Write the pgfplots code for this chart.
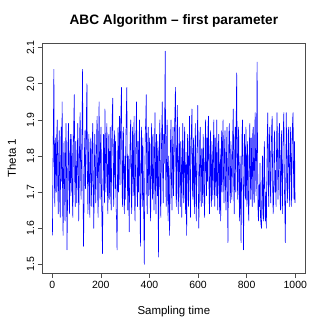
\documentclass[border=0pt]{standalone}
\usepackage{fontspec}
\setmainfont{Liberation Sans}
\usepackage{pgfplots}
\pgfplotsset{compat=1.18}
\usepackage{pgfplotstable}

% trace of the first parameter, one value per sampling step (every 2nd step)
\pgfplotstableread[header=false,row sep=\\]{
1.58\\1.76\\1.88\\2.04\\1.74\\1.66\\1.85\\1.79\\1.70\\1.86\\
1.90\\1.72\\1.64\\1.80\\1.87\\1.68\\1.63\\1.78\\1.88\\1.73\\
1.95\\1.66\\1.58\\1.79\\1.84\\1.70\\1.62\\1.81\\1.89\\1.75\\
1.54\\1.66\\1.83\\1.89\\1.72\\1.64\\1.80\\1.86\\1.69\\1.77\\
1.86\\1.68\\1.63\\1.82\\1.90\\1.97\\1.73\\1.66\\1.84\\1.78\\
1.67\\1.75\\1.89\\1.81\\1.62\\1.70\\1.86\\1.92\\1.76\\1.68\\
1.80\\1.88\\2.04\\1.70\\1.55\\1.66\\1.82\\1.87\\1.71\\1.78\\
1.92\\2.00\\1.75\\1.64\\1.79\\1.86\\1.69\\1.63\\1.80\\1.85\\
1.72\\1.66\\1.84\\1.89\\1.74\\1.60\\1.70\\1.86\\1.80\\1.67\\
1.74\\1.86\\1.91\\1.70\\1.63\\1.82\\1.95\\1.76\\1.68\\1.84\\
1.88\\1.69\\1.61\\1.53\\1.72\\1.86\\1.78\\1.67\\1.93\\1.81\\
1.70\\1.83\\1.89\\1.72\\1.64\\1.79\\1.86\\1.68\\1.74\\1.88\\
1.69\\1.65\\1.84\\1.91\\1.96\\1.73\\1.66\\1.82\\1.87\\1.71\\
1.84\\1.66\\1.62\\1.54\\1.76\\1.88\\1.70\\1.81\\1.91\\1.72\\
1.86\\1.93\\1.99\\1.74\\1.66\\1.83\\1.88\\1.70\\1.64\\1.80\\
1.68\\1.84\\1.92\\1.99\\1.76\\1.65\\1.80\\1.70\\1.59\\1.78\\
1.86\\1.90\\1.71\\1.64\\1.82\\1.88\\1.69\\1.76\\1.91\\1.67\\
1.62\\1.78\\1.87\\1.95\\1.72\\1.66\\1.84\\1.70\\1.80\\1.90\\
1.68\\1.55\\1.74\\1.88\\1.80\\1.66\\1.85\\1.72\\1.62\\1.50\\
1.74\\1.86\\1.90\\1.97\\1.70\\1.64\\1.83\\1.88\\1.69\\1.80\\
1.85\\1.67\\1.62\\1.80\\1.89\\1.73\\1.68\\1.86\\1.74\\1.65\\
1.82\\1.92\\1.71\\1.64\\1.86\\1.78\\1.69\\1.84\\1.52\\1.70\\
1.84\\1.90\\1.68\\1.63\\1.80\\1.88\\1.95\\1.74\\1.67\\1.86\\
1.78\\1.91\\2.09\\1.75\\1.66\\1.84\\1.90\\1.70\\1.62\\1.80\\
1.72\\1.58\\1.70\\1.85\\1.90\\1.72\\1.65\\1.82\\1.88\\1.69\\
1.76\\1.87\\1.92\\1.99\\1.70\\1.66\\1.86\\1.94\\1.73\\1.64\\
1.80\\1.88\\1.71\\1.66\\1.84\\1.79\\1.63\\1.76\\1.89\\1.74\\
1.67\\1.83\\1.88\\1.70\\1.64\\1.81\\1.58\\1.72\\1.86\\1.78\\
1.66\\1.80\\1.91\\1.74\\1.63\\1.82\\1.88\\1.93\\1.71\\1.68\\
1.85\\1.76\\1.64\\1.80\\1.89\\1.70\\1.62\\1.79\\1.86\\1.94\\
1.72\\1.60\\1.68\\1.84\\1.88\\1.71\\1.66\\1.82\\1.77\\1.67\\
1.86\\1.80\\1.68\\1.63\\1.81\\1.90\\1.75\\1.69\\1.85\\1.73\\
1.88\\1.91\\1.72\\1.64\\1.79\\1.87\\1.70\\1.66\\1.84\\1.76\\
1.68\\1.83\\1.90\\1.72\\1.66\\1.85\\1.77\\1.69\\1.90\\1.74\\
1.65\\1.80\\1.86\\1.71\\1.64\\1.82\\1.62\\1.75\\1.87\\1.70\\
1.84\\1.90\\1.73\\1.67\\1.82\\1.87\\1.71\\1.65\\1.80\\1.88\\
1.70\\1.56\\1.74\\1.86\\1.89\\1.70\\1.67\\1.84\\1.79\\1.68\\
1.76\\1.87\\1.93\\1.72\\1.64\\1.81\\1.88\\1.70\\1.90\\2.03\\
1.78\\1.68\\1.84\\1.88\\1.70\\1.62\\1.80\\1.70\\1.56\\1.74\\
1.86\\1.90\\1.72\\1.54\\1.70\\1.86\\1.80\\1.68\\1.88\\1.74\\
1.66\\1.84\\1.78\\1.65\\1.62\\1.82\\1.89\\1.74\\1.68\\1.85\\
1.77\\1.66\\1.86\\1.88\\1.70\\1.67\\1.84\\1.92\\1.75\\1.69\\
1.84\\2.06\\1.78\\1.64\\1.62\\1.72\\1.66\\1.78\\1.63\\1.61\\
1.60\\1.72\\1.80\\1.64\\1.62\\1.78\\1.84\\1.68\\1.62\\1.70\\
1.60\\1.74\\1.86\\1.92\\1.72\\1.66\\1.83\\1.88\\1.72\\1.67\\
1.80\\1.88\\1.91\\1.72\\1.64\\1.68\\1.84\\1.87\\1.70\\1.76\\
1.66\\1.82\\1.92\\1.80\\1.68\\1.75\\1.86\\1.89\\1.70\\1.65\\
1.80\\1.87\\1.71\\1.64\\1.82\\1.88\\1.92\\1.72\\1.66\\1.56\\
1.74\\1.92\\1.80\\1.67\\1.70\\1.86\\1.88\\1.72\\1.66\\1.82\\
1.88\\1.76\\1.66\\1.82\\1.90\\1.92\\1.74\\1.68\\1.84\\1.67\\
}\trace

\begin{document}
\begin{tikzpicture}
\path[use as bounding box] (0,0) rectangle (327bp,327bp);
\begin{axis}[
    at={(42.7bp,54bp)}, anchor=south west,
    scale only axis,
    width=262.3bp, height=229.7bp,
    xmin=-39, xmax=1040,
    ymin=1.476, ymax=2.112,
    xtick={0,200,...,1000},
    ytick={1.5,1.6,...,2.1},
    tick align=outside,
    major tick length=5bp,
    axis line style={gray!60!black, line width=0.6pt},
    every tick/.style={gray!60!black, line width=0.6pt},
    xtick pos=bottom, ytick pos=left,
    /pgf/number format/assume math mode=true,
    yticklabel style={rotate=90, anchor=south, /pgf/number format/.cd, fixed, fixed zerofill, precision=1},
    xticklabel style={/pgf/number format/.cd, fixed, set thousands separator={}},
    tick label style={font=\fontsize{10.5}{12}\selectfont},
    label style={font=\fontsize{11.5}{13}\selectfont},
    xlabel={Sampling time},
    ylabel={Theta 1},
    xlabel style={at={(axis description cs:0.5,-0.168)}, anchor=center},
    ylabel style={at={(axis description cs:-0.118,0.5)}, anchor=center, rotate=0},
    title={ABC Algorithm -- first parameter},
    title style={at={(axis description cs:0.5,1.072)}, anchor=center, font=\fontsize{13.7}{16}\selectfont\bfseries},
]
\addplot[blue, line width=0.6pt, line join=round] table[x expr=\coordindex*2+1, y index=0] {\trace};
\end{axis}
\end{tikzpicture}
\end{document}
